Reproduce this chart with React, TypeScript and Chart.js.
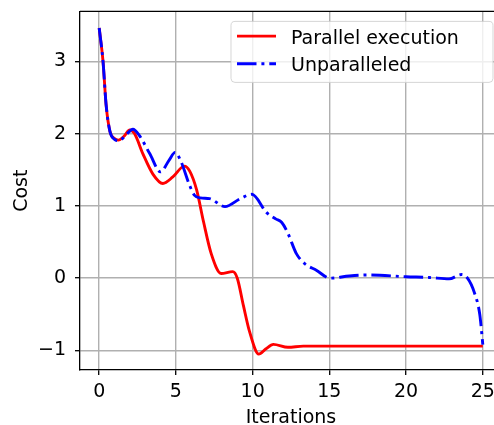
import React, { useEffect, useRef } from 'react';
import { Chart, registerables } from 'chart.js';

Chart.register(...registerables);

// ---- data ----
const seriesLabels = ['Parallel execution', 'Unparalleled'];
const seriesColors = ['#ff0000', '#0000ff'];

const parallelX = [0, 0.25, 0.45, 0.7, 1.0, 1.25, 1.6, 2.0, 2.3, 2.85, 3.5, 4.15, 4.8, 5.55, 5.9, 6.35, 6.8, 7.3, 7.95, 8.7, 9.0, 9.4, 9.8, 10.4, 10.85, 11.35, 12.3, 13.3, 25];
const parallelY = [3.46, 3.0, 2.4, 2.03, 1.93, 1.91, 1.96, 2.05, 2.0, 1.72, 1.44, 1.31, 1.4, 1.55, 1.48, 1.22, 0.78, 0.34, 0.065, 0.09, 0.0, -0.38, -0.74, -1.05, -0.98, -0.915, -0.955, -0.94, -0.94];

const unparX = [0, 0.25, 0.45, 0.7, 1.0, 1.3, 1.7, 2.2, 2.6, 3.3, 4.0, 4.55, 4.95, 5.3, 5.9, 6.2, 6.6, 7.2, 8.2, 9.2, 9.95, 10.9, 11.5, 11.9, 12.3, 12.85, 13.4, 14.15, 15.05, 16.3, 17.6, 20.0, 21.5, 22.8, 23.6, 24.0, 24.45, 24.8, 25];
const unparY = [3.46, 3.0, 2.4, 2.03, 1.92, 1.9, 1.97, 2.06, 1.98, 1.72, 1.47, 1.63, 1.74, 1.63, 1.28, 1.15, 1.11, 1.1, 0.99, 1.1, 1.16, 0.91, 0.82, 0.77, 0.62, 0.34, 0.2, 0.11, 0.0, 0.03, 0.045, 0.02, 0.01, -0.01, 0.05, 0.0, -0.2, -0.5, -0.92];

const xTicks = [0, 5, 10, 15, 20, 25];
const yTicks = [-1, 0, 1, 2, 3];
const xLabel = 'Iterations';
const yLabel = 'Cost';

const FONT = 'DejaVu Sans';
const FS = 19;

const framePlugin = {
  id: 'frameLegend',
  afterDraw(chart: any) {
    const { ctx, chartArea } = chart;
    ctx.save();
    // top spine
    ctx.strokeStyle = '#000';
    ctx.lineWidth = 1.3;
    ctx.beginPath();
    ctx.moveTo(chartArea.left, chartArea.top);
    ctx.lineTo(chartArea.right, chartArea.top);
    ctx.stroke();

    // legend box
    const bx = 231;
    const by = chartArea.top + 10;
    const bw = 262;
    const bh = 61;
    const r = 4;
    ctx.beginPath();
    ctx.moveTo(bx + r, by);
    ctx.lineTo(bx + bw - r, by);
    ctx.quadraticCurveTo(bx + bw, by, bx + bw, by + r);
    ctx.lineTo(bx + bw, by + bh - r);
    ctx.quadraticCurveTo(bx + bw, by + bh, bx + bw - r, by + bh);
    ctx.lineTo(bx + r, by + bh);
    ctx.quadraticCurveTo(bx, by + bh, bx, by + bh - r);
    ctx.lineTo(bx, by + r);
    ctx.quadraticCurveTo(bx, by, bx + r, by);
    ctx.closePath();
    ctx.fillStyle = 'rgba(255,255,255,0.8)';
    ctx.fill();
    ctx.strokeStyle = 'rgba(204,204,204,0.8)';
    ctx.lineWidth = 1;
    ctx.stroke();

    const dsets = chart.data.datasets;
    seriesLabels.forEach((label, i) => {
      const ds = dsets.find((d: any) => d.label === label);
      const lineY = by + 14.7 + i * 27.6;
      ctx.beginPath();
      ctx.setLineDash(ds.borderDash || []);
      ctx.strokeStyle = ds.borderColor;
      ctx.lineWidth = ds.borderWidth;
      ctx.moveTo(bx + 6, lineY);
      ctx.lineTo(bx + 45, lineY);
      ctx.stroke();
      ctx.setLineDash([]);
      ctx.fillStyle = '#000';
      ctx.font = `${FS}px "${FONT}"`;
      ctx.textBaseline = 'alphabetic';
      ctx.textAlign = 'left';
      ctx.fillText(label, bx + 60, by + 22.3 + i * 26.9);
    });
    ctx.restore();
  },
};

export default function App() {
  const ref = useRef<HTMLCanvasElement>(null);

  useEffect(() => {
    document.body.style.margin = '0';
    const canvas = ref.current;
    if (!canvas) return;
    Chart.defaults.font.family = FONT;
    Chart.defaults.font.size = FS;
    Chart.defaults.color = '#000';

    const tickFmt = (v: any) => (v < 0 ? '\u2212' + Math.abs(v) : String(v));

    const chart = new Chart(canvas, {
      type: 'line',
      data: {
        datasets: [
          {
            label: seriesLabels[0],
            data: parallelX.map((x, i) => ({ x, y: parallelY[i] })),
            borderColor: seriesColors[0],
            backgroundColor: seriesColors[0],
            borderWidth: 2.9,
            pointRadius: 0,
            tension: 0.4,
            cubicInterpolationMode: 'monotone',
            fill: false,
            order: 2,
          },
          {
            label: seriesLabels[1],
            data: unparX.map((x, i) => ({ x, y: unparY[i] })),
            borderColor: seriesColors[1],
            backgroundColor: seriesColors[1],
            borderWidth: 2.9,
            borderDash: [19.5, 4.9, 3, 4.9],
            pointRadius: 0,
            tension: 0.4,
            cubicInterpolationMode: 'monotone',
            fill: false,
            order: 1,
          },
        ],
      },
      options: {
        animation: false,
        responsive: false,
        maintainAspectRatio: false,
        devicePixelRatio: 1,
        layout: { padding: { top: 0, right: 0, left: 0, bottom: 0 } },
        plugins: {
          legend: { display: false },
          tooltip: { enabled: false },
        },
        scales: {
          x: {
            type: 'linear',
            min: -1.25,
            max: 26.25,
            afterBuildTicks: (s: any) => {
              s.ticks = xTicks.map((v) => ({ value: v }));
            },
            afterFit: (s: any) => {
              s.height = 62;
            },
            ticks: {
              padding: 6,
              maxRotation: 0,
              font: { size: FS, family: FONT },
              color: '#000',
              callback: tickFmt,
            },
            grid: {
              color: '#b0b0b0',
              lineWidth: 1.4,
              tickLength: 5,
              tickColor: '#000',
              tickWidth: 1.3,
            },
            border: { color: '#000', width: 1.3 },
            title: {
              display: true,
              text: xLabel,
              font: { size: FS, family: FONT, lineHeight: 1.2 },
              color: '#000',
              padding: { top: 0, bottom: 2.6 },
            },
          },
          y: {
            type: 'linear',
            min: -1.27,
            max: 3.69,
            afterBuildTicks: (s: any) => {
              s.ticks = yTicks.map((v) => ({ value: v }));
            },
            afterFit: (s: any) => {
              s.width = 80;
            },
            ticks: {
              padding: 9,
              font: { size: FS, family: FONT },
              color: '#000',
              callback: tickFmt,
            },
            grid: {
              color: '#b0b0b0',
              lineWidth: 1.4,
              tickLength: 5,
              tickColor: '#000',
              tickWidth: 1.3,
            },
            border: { color: '#000', width: 1.3 },
            title: {
              display: true,
              text: yLabel,
              font: { size: FS, family: FONT, lineHeight: 1.2 },
              color: '#000',
              padding: { top: 10.6, bottom: 0 },
            },
          },
        },
      },
      plugins: [framePlugin],
    } as any);

    return () => chart.destroy();
  }, []);

  return (
    <div style={{ width: 494, height: 425, overflow: 'hidden', position: 'relative' }}>
      <canvas
        ref={ref}
        width={502}
        height={441}
        style={{ display: 'block', position: 'absolute', left: 0, top: -9, width: 502, height: 441 }}
      />
    </div>
  );
}
